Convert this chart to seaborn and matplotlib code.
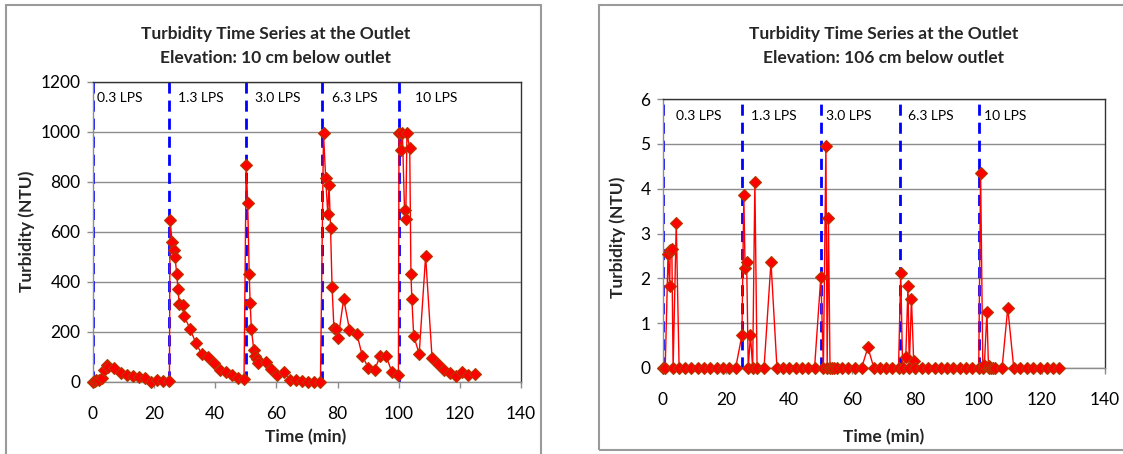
import matplotlib
matplotlib.use("Agg")
import matplotlib.pyplot as plt
import seaborn as sns
import pandas as pd
from matplotlib.patches import Rectangle

# ---------------- data ----------------
flow_labels = ["0.3 LPS", "1.3 LPS", "3.0 LPS", "6.3 LPS", "10 LPS"]
flow_change_times = [0, 25, 50, 75, 100]

# Elevation 10 cm below outlet
time_10cm = [0, 0.5, 1, 2, 3, 3.5, 4.5, 5, 7, 9, 11, 13, 15, 17, 19, 21, 23, 25,
             25.2, 25.9, 26.4, 26.8, 27.4, 27.8, 28.2, 29.3, 29.8, 31.8, 33.6, 35.6,
             37.5, 39.5, 41.6, 43.5, 45.5, 47.4, 49.4,
             50.1, 50.6, 51.1, 51.4, 51.8, 52.6, 53.0, 53.6, 54.1, 56.5, 58.3, 60.3,
             62.5, 64.3, 66.5, 68.3, 70.3, 72.2, 74.4,
             75.4, 76.1, 76.8, 77.2, 77.7, 78.2, 78.8, 79.6, 80.2, 82.0, 83.9, 86.3,
             88.1, 90.1, 92.1, 93.9, 95.9, 97.8, 99.9,
             100.1, 100.6, 101.2, 101.9, 102.3, 102.7, 103.6, 104.0, 104.3, 104.9,
             106.7, 108.8, 110.9, 112.9, 114.8, 116.8, 118.7, 120.6, 122.8, 124.8]
turb_10cm = [0, 5, 7, 8, 15, 50, 70, 62, 55, 38, 30, 23, 20, 17, 2, 7, 4, 3,
             647, 560, 527, 500, 433, 371, 311, 307, 264, 211, 157, 111,
             100, 77, 47, 40, 27, 17, 13,
             869, 717, 431, 317, 213, 127, 103, 92, 76, 79, 51, 29,
             40, 9, 7, 4, 0, 0, 0,
             995, 817, 671, 789, 616, 380, 216, 213, 176, 333, 209, 193,
             104, 56, 47, 104, 103, 39, 27,
             995, 927, 995, 687, 651, 995, 935, 431, 333, 184,
             113, 504, 97, 73, 49, 37, 24, 40, 29, 33]

# Elevation 106 cm below outlet
time_106cm = [0, 0.7, 1.6, 2.1, 2.3, 2.8, 3.2, 4.2, 5.1, 7, 9, 11, 13, 15, 17, 19, 21, 23,
              25.0, 25.6, 26.0, 26.5, 27.0, 27.7, 28.4, 29.1, 29.8, 32, 34.2, 36.1,
              38, 40, 42, 44, 46, 48,
              50.0, 50.8, 51.6, 52.0, 52.4, 52.9, 53.5, 54.2, 55, 56.8, 58.7, 60.8, 62.9,
              64.9, 66.8, 68.7, 70.7, 72.6, 74.6,
              75.3, 75.9, 76.9, 77.6, 78.0, 78.7, 79.4, 79.9, 82, 84, 86, 88, 90, 92, 94,
              96, 98,
              100, 100.6, 101.3, 101.8, 102.6, 103.1, 103.4, 103.8, 104.5, 105.2, 107.4,
              109.2, 111.1, 113.2, 115.4, 117.3, 119.3, 121.5, 123.4, 125.5]
turb_106cm = [0, 0, 2.55, 1.84, 2.64, 2.66, 0, 3.23, 0, 0, 0, 0, 0, 0, 0, 0, 0, 0,
              0.73, 3.85, 2.23, 2.36, 0, 0.73, 0, 4.15, 0, 0, 2.36, 0,
              0, 0, 0, 0, 0, 0,
              2.04, 0, 4.96, 0, 3.35, 0, 0, 0, 0, 0, 0, 0, 0,
              0.46, 0, 0, 0, 0, 0,
              2.13, 0, 0.25, 1.84, 0, 1.55, 0.15, 0, 0, 0, 0, 0, 0, 0, 0,
              0, 0,
              0, 4.35, 0, 0.07, 1.25, 0, 0.05, 0, 0, 0, 0,
              1.34, 0, 0, 0, 0, 0, 0, 0, 0]

titles = ["Turbidity Time Series at the Outlet\nElevation: 10 cm below outlet",
          "Turbidity Time Series at the Outlet\nElevation: 106 cm below outlet"]
x_label = "Time (min)"
y_label = "Turbidity (NTU)"

# ---------------- style ----------------
sns.set_theme(style="white")
plt.rcParams['font.family'] = ['Lato', 'DejaVu Sans']

W, H = 1123, 454
fig = plt.figure(figsize=(W / 100, H / 100), dpi=100)

def fx(px):
    return px / W

def fy(py):
    return 1 - py / H

# chart frames (grey borders)
fig.patches.append(Rectangle((fx(6), fy(470)), fx(541) - fx(6), fy(5) - fy(470),
                             transform=fig.transFigure, fill=False,
                             edgecolor="#9a9a9a", lw=1.5))
fig.patches.append(Rectangle((fx(599), fy(450)), fx(1180) - fx(599), fy(5) - fy(450),
                             transform=fig.transFigure, fill=False,
                             edgecolor="#9a9a9a", lw=1.5))

ax1 = fig.add_axes([fx(93), fy(382), fx(521) - fx(93), fy(82) - fy(382)])
ax2 = fig.add_axes([fx(663), fy(368), fx(1105) - fx(663), fy(99) - fy(368)])

configs = [
    (ax1, titles[0], time_10cm, turb_10cm, 1200, 200, 1136,
     [1.2, 27.8, 53.0, 78.3, 105.4], 276, 306, 27, 231),
    (ax2, titles[1], time_106cm, turb_106cm, 6, 1, 5.63,
     [4.1, 27.8, 51.6, 77.6, 101.8], 884, 884, 618, 237),
]

for ax, title, t, v, ymax, ystep, lab_y, lab_x, title_x, xl_x, yl_x, yl_y in configs:
    df = pd.DataFrame({"time": t, "turbidity": v})
    ax.set_xlim(0, 140)
    ax.set_ylim(0, ymax)
    ax.set_yticks([i * ystep for i in range(int(round(ymax / ystep)) + 1)])
    ax.set_xticks(range(0, 141, 20))
    ax.yaxis.grid(True, color="#8c8c8c", lw=1.0)
    ax.set_axisbelow(True)

    for tc in flow_change_times:
        ax.axvline(tc, color="#0000ff", lw=2.0, ls=(0, (4, 2.5)), zorder=2)

    sns.lineplot(data=df, x="time", y="turbidity", ax=ax, sort=False,
                 estimator=None, color="#ff0000", lw=1.0, marker="D",
                 markersize=6.5, markerfacecolor="#ff0000",
                 markeredgecolor="#b33a00", markeredgewidth=0.8, zorder=3,
                 clip_on=False)

    for lbl, xx in zip(flow_labels, lab_x):
        ax.text(xx, lab_y, lbl, fontsize=10, va="center", ha="left",
                color="#000000", zorder=4)

    for side in ["left", "bottom"]:
        ax.spines[side].set_color("#8c8c8c")
        ax.spines[side].set_linewidth(1.0)
    for side in ["top", "right"]:
        ax.spines[side].set_color("#333333")
        ax.spines[side].set_linewidth(1.0)

    ax.tick_params(axis="both", which="major", direction="out", length=4,
                   width=1, color="#8c8c8c", labelsize=12.5, labelcolor="#000000",
                   left=True, bottom=True)
    ax.tick_params(axis="x", pad=13)
    ax.tick_params(axis="y", pad=5)
    ax.set_xlabel("")
    ax.set_ylabel("")

    fig.text(fx(title_x), fy(46), title,
             ha="center", va="center", fontsize=12.5, fontweight="bold",
             linespacing=1.55)
    fig.text(fx(xl_x), fy(437), x_label, ha="center", va="center",
             fontsize=12.5, fontweight="bold")
    fig.text(fx(yl_x), fy(yl_y), y_label, ha="center", va="center",
             fontsize=12.5, fontweight="bold", rotation=90)

fig.savefig("out.png", dpi=100)
